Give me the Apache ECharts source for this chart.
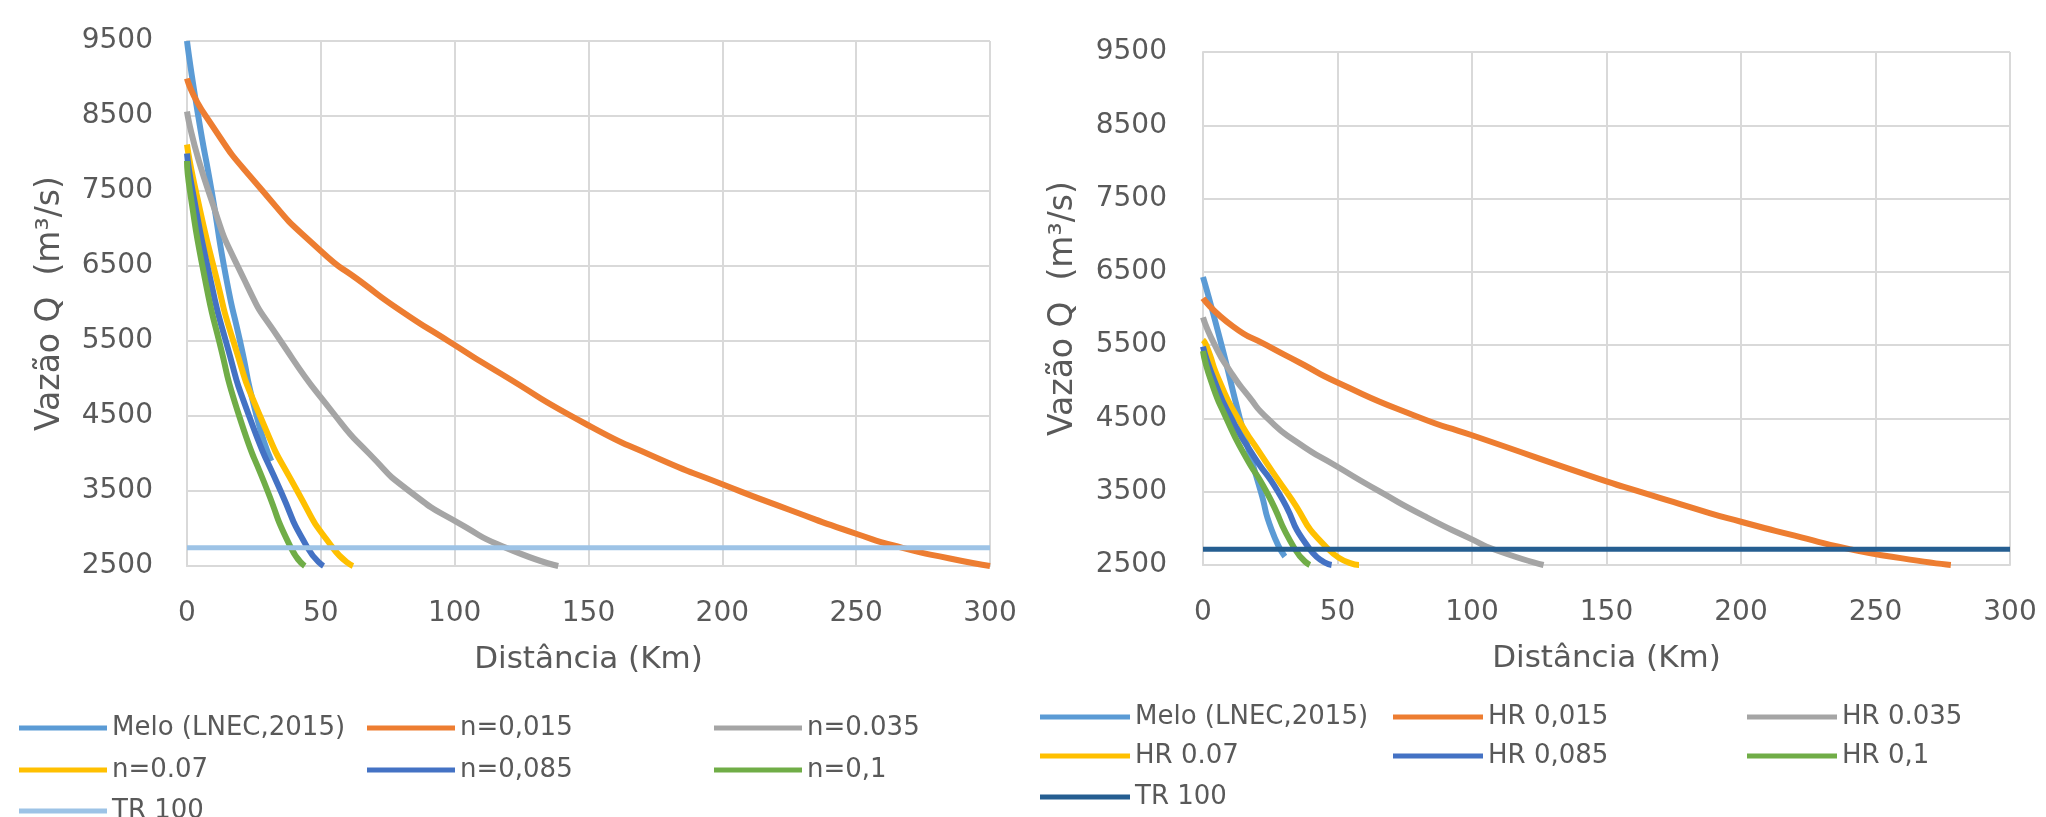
<!DOCTYPE html>
<html>
<head>
<meta charset="utf-8">
<script src="https://cdn.jsdelivr.net/npm/echarts@6/dist/echarts.min.js"></script>
<style>
html,body{margin:0;padding:0;background:#fff;}
#c{width:2046px;height:817px;}
</style>
</head>
<body>
<div id="c"></div>
<script>
// ---------- axis settings ----------
const X_MIN = 0, X_MAX = 300, X_STEP = 50;
const Y_MIN = 2500, Y_MAX = 9500, Y_STEP = 1000;
const X_TITLE = 'Distância (Km)';
const Y_TITLE = 'Vazão Q  (m³/s)';

// ---------- left chart (Manning n) ----------
const L_names = ['Melo (LNEC,2015)', 'n=0,015', 'n=0.035', 'n=0.07', 'n=0,085', 'n=0,1', 'TR 100'];
const L_melo_km = [0, 4.2, 9.2, 14.8, 19.8, 26, 31.5];
const L_melo_q  = [9500, 8500, 7500, 6310, 5500, 4500, 3900];
const L_n015_km = [0, 7, 28.3, 50, 65, 80, 97.6, 117, 148.7, 175, 200, 225, 250, 267, 285, 300];
const L_n015_q  = [9000, 8500, 7500, 6700, 6290, 5900, 5500, 5070, 4400, 3950, 3590, 3250, 2930, 2745, 2600, 2500];
const L_n035_km = [0, 8, 21.5, 35, 55.5, 68, 83, 103.8, 119, 138.7];
const L_n035_q  = [8560, 7500, 6310, 5500, 4500, 4000, 3500, 3024, 2745, 2500];
const L_n07_km  = [0, 3.3, 11.2, 17.3, 27.3, 41.2, 54.4, 62];
const L_n07_q   = [8120, 7500, 6310, 5500, 4500, 3500, 2745, 2500];
const L_n085_km = [0, 2.1, 8.8, 14.5, 23.2, 35, 45, 51];
const L_n085_q  = [8000, 7500, 6310, 5500, 4500, 3500, 2745, 2500];
const L_n1_km   = [0, 1.1, 6.8, 12, 19.5, 30.1, 38.8, 44];
const L_n1_q    = [7900, 7500, 6310, 5500, 4500, 3500, 2745, 2500];
const L_tr_km   = [0, 300];
const L_tr_q    = [2745, 2745];

// ---------- right chart (HR) ----------
const R_names = ['Melo (LNEC,2015)', 'HR 0,015', 'HR 0.035', 'HR 0.07', 'HR 0,085', 'HR 0,1', 'TR 100'];
const R_melo_km = [0, 6.9, 13.7, 17.5, 21.5, 25.5, 30.4];
const R_melo_q  = [6430, 5500, 4500, 4000, 3500, 2980, 2615];
const R_h015_km = [0, 11, 23.6, 36, 50, 80, 100, 150, 162, 185, 200, 220, 240, 260, 278];
const R_h015_q  = [6140, 5760, 5500, 5260, 4990, 4520, 4270, 3640, 3505, 3245, 3090, 2900, 2720, 2590, 2500];
const R_h035_km = [0, 4.4, 10, 17, 24, 35, 50, 65.8, 83.2, 100, 108, 126.6];
const R_h035_q  = [5880, 5500, 5150, 4800, 4500, 4175, 3840, 3500, 3150, 2850, 2715, 2500];
const R_h07_km  = [0, 1.2, 6.2, 13, 21.7, 31, 46.6, 58];
const R_h07_q   = [5570, 5500, 5000, 4500, 4000, 3500, 2715, 2500];
const R_h085_km = [0, 4.4, 10.6, 18.6, 27.9, 39.7, 47.8];
const R_h085_q  = [5480, 5000, 4500, 4000, 3500, 2715, 2500];
const R_h1_km   = [0, 3.1, 8.7, 15.5, 23.6, 34.2, 39.7];
const R_h1_q    = [5420, 5000, 4500, 4000, 3500, 2715, 2500];
const R_tr_km   = [0, 300];
const R_tr_q    = [2715, 2715];

const COLORS_L = ['#5B9BD5', '#ED7D31', '#A5A5A5', '#FFC000', '#4472C4', '#70AD47', '#9DC3E6'];
const COLORS_R = ['#5B9BD5', '#ED7D31', '#A5A5A5', '#FFC000', '#4472C4', '#70AD47', '#255E91'];

const zip = (a, b) => a.map((v, i) => [v, b[i]]);
const L_data = [
  zip(L_melo_km, L_melo_q), zip(L_n015_km, L_n015_q), zip(L_n035_km, L_n035_q),
  zip(L_n07_km, L_n07_q), zip(L_n085_km, L_n085_q), zip(L_n1_km, L_n1_q), zip(L_tr_km, L_tr_q)
];
const R_data = [
  zip(R_melo_km, R_melo_q), zip(R_h015_km, R_h015_q), zip(R_h035_km, R_h035_q),
  zip(R_h07_km, R_h07_q), zip(R_h085_km, R_h085_q), zip(R_h1_km, R_h1_q), zip(R_tr_km, R_tr_q)
];

const FONT = 'DejaVu Sans';
const TXT = '#595959';
const GRIDC = '#d9d9d9';

function xAxis(gi) {
  return {
    type: 'value', gridIndex: gi, min: X_MIN, max: X_MAX, interval: X_STEP,
    name: X_TITLE, nameLocation: 'middle', nameGap: 78,
    nameTextStyle: { fontFamily: FONT, fontSize: 31, color: TXT },
    axisLine: { show: true, lineStyle: { color: GRIDC, width: 2 } },
    axisTick: { show: false },
    axisLabel: { fontFamily: FONT, fontSize: 28, color: TXT, margin: 34, formatter: v => String(v) },
    splitLine: { show: true, lineStyle: { color: GRIDC, width: 2 } }
  };
}
function yAxis(gi, gap) {
  return {
    type: 'value', gridIndex: gi, min: Y_MIN, max: Y_MAX, interval: Y_STEP,
    name: Y_TITLE, nameLocation: 'middle', nameGap: gap, nameRotate: 90,
    nameTextStyle: { fontFamily: FONT, fontSize: 33, color: TXT },
    axisLine: { show: true, lineStyle: { color: GRIDC, width: 2 } },
    axisTick: { show: false },
    axisLabel: { fontFamily: FONT, fontSize: 28, color: TXT, margin: gi === 0 ? 34 : 36, formatter: v => String(v) },
    splitLine: { show: true, lineStyle: { color: GRIDC, width: 2 } }
  };
}

const series = [];
const legends = [];
function addChart(prefix, names, data, colors, gi, cols, rows, iw) {
  names.forEach((nm, i) => {
    const id = prefix + nm;
    const isTR = i === names.length - 1;
    series.push({
      name: id, type: 'line', xAxisIndex: gi, yAxisIndex: gi,
      data: data[i], showSymbol: false, symbol: 'none',
      smooth: isTR ? false : 0.65,
      color: colors[i],
      lineStyle: { color: colors[i], width: isTR ? 5 : 6, cap: 'butt', join: 'round' },
      z: 2 + i, animation: false, silent: true
    });
    const col = i % 3, row = Math.floor(i / 3);
    legends.push({
      data: [id], left: cols[col], top: rows[row] - 15, padding: 0,
      icon: 'rect', itemWidth: iw, itemHeight: 5, selectedMode: false,
      formatter: (n) => n.slice(2),
      textStyle: { fontFamily: FONT, fontSize: 26, color: TXT, lineHeight: 30 }
    });
  });
}
addChart('L:', L_names, L_data, COLORS_L, 0, [19, 367, 714], [728, 770, 811], 88);
addChart('R:', R_names, R_data, COLORS_R, 1, [1040, 1393, 1747], [717, 756, 797], 90);

const chart = echarts.init(document.getElementById('c'), null, { renderer: 'canvas' });
chart.setOption({
  backgroundColor: '#ffffff',
  animation: false,
  grid: [
    { left: 187, top: 41, width: 803, height: 525, outerBoundsMode: 'none', containLabel: false },
    { left: 1203, top: 52, width: 807, height: 513, outerBoundsMode: 'none', containLabel: false }
  ],
  xAxis: [xAxis(0), xAxis(1)],
  yAxis: [yAxis(0, 120), yAxis(1, 123)],
  legend: legends,
  series: series
});
</script>
</body>
</html>
